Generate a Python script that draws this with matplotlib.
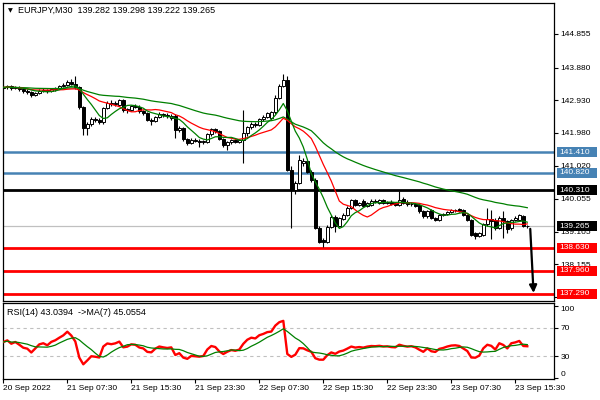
import matplotlib
matplotlib.use("Agg")
import matplotlib.pyplot as plt
import matplotlib.transforms as mtransforms
from matplotlib.patches import Rectangle
import numpy as np
import pandas as pd

# EURJPY M30, one bar per 30 minutes from 20 Sep 23:30
opens = [143.28, 143.30, 143.33, 143.27, 143.30, 143.25, 143.19, 143.17, 143.08, 143.14,
         143.21, 143.23, 143.19, 143.25, 143.28, 143.33, 143.38, 143.47, 143.41, 143.30,
         142.72, 142.12, 142.24, 142.38, 142.34, 142.28, 142.70, 142.85, 142.81, 142.79,
         142.93, 142.63, 142.64, 142.76, 142.74, 142.60, 142.55, 142.35, 142.32, 142.45,
         142.53, 142.49, 142.40, 142.48, 142.06, 142.12, 141.79, 141.68, 141.78, 141.75,
         141.72, 141.72, 141.95, 142.08, 142.03, 141.79, 141.62, 141.70, 141.76, 141.72,
         141.76, 141.97, 142.15, 142.25, 142.22, 142.38, 142.45, 142.40, 142.58, 143.00,
         143.35, 143.52, 140.90, 140.32, 140.52, 141.10, 141.16, 140.85, 140.61, 139.22,
         138.86, 138.80, 139.25, 139.54, 139.28, 139.48, 139.60, 139.80, 140.02, 139.88,
         140.00, 139.86, 139.88, 140.00, 139.94, 140.01, 139.95, 139.98, 139.94, 139.88,
         140.05, 139.98, 139.90, 139.92, 139.88, 139.70, 139.55, 139.72, 139.50, 139.45,
         139.58, 139.62, 139.68, 139.72, 139.76, 139.72, 139.60, 139.45, 139.05, 138.98,
         139.02, 139.32, 139.46, 139.45, 139.22, 139.50, 139.40, 139.20, 139.45, 139.45,
         139.55, 139.282]
highs = [143.36, 143.38, 143.36, 143.34, 143.33, 143.29, 143.25, 143.20, 143.18, 143.24,
         143.27, 143.26, 143.28, 143.31, 143.36, 143.42, 143.52, 143.55, 143.62, 143.34,
         142.76, 142.30, 142.44, 142.44, 142.42, 142.74, 142.90, 142.92, 142.90, 142.97,
         142.96, 142.70, 142.80, 142.82, 142.78, 142.64, 142.58, 142.40, 142.48, 142.58,
         142.56, 142.55, 142.52, 142.52, 142.18, 142.16, 141.84, 141.82, 141.82, 141.80,
         141.78, 141.98, 142.12, 142.12, 142.06, 141.82, 141.74, 141.80, 141.80, 141.80,
         142.64, 142.18, 142.30, 142.28, 142.42, 142.50, 142.58, 142.62, 143.08, 143.40,
         143.70, 143.64, 141.00, 140.58, 141.33, 141.24, 141.20, 140.90, 140.66, 139.28,
         138.92, 139.30, 139.58, 139.58, 139.52, 139.64, 139.84, 140.06, 140.06, 139.98,
         140.04, 139.98, 140.04, 140.04, 140.04, 140.04, 139.99, 140.01, 139.97, 140.29,
         140.10, 140.01, 139.96, 139.95, 139.92, 139.74, 139.73, 139.75, 139.54, 139.62,
         139.66, 139.71, 139.76, 139.77, 139.80, 139.76, 139.63, 139.48, 139.08, 139.08,
         139.35, 139.79, 139.72, 139.50, 139.55, 139.70, 139.45, 139.48, 139.56, 139.62,
         139.60, 139.298]
lows = [143.24, 143.26, 143.22, 143.24, 143.21, 143.15, 143.12, 143.02, 143.05, 143.10,
        143.16, 143.14, 143.16, 143.21, 143.25, 143.30, 143.35, 143.36, 143.26, 142.66,
        141.92, 141.92, 142.18, 142.30, 142.24, 142.24, 142.66, 142.76, 142.77, 142.75,
        142.58, 142.56, 142.60, 142.70, 142.56, 142.50, 142.32, 142.20, 142.28, 142.42,
        142.44, 142.42, 142.36, 141.83, 142.00, 141.74, 141.62, 141.64, 141.70, 141.57,
        141.66, 141.68, 141.90, 141.98, 141.76, 141.58, 141.48, 141.66, 141.68, 141.68,
        141.10, 141.90, 142.10, 142.16, 142.18, 142.32, 142.40, 142.34, 142.54, 142.96,
        143.30, 140.86, 139.21, 140.20, 140.48, 141.00, 140.80, 140.56, 139.18, 138.76,
        138.65, 138.76, 139.20, 139.09, 139.24, 139.44, 139.56, 139.76, 139.84, 139.84,
        139.82, 139.82, 139.85, 139.94, 139.90, 139.92, 139.90, 139.87, 139.84, 139.85,
        139.92, 139.86, 139.85, 139.82, 139.66, 139.50, 139.50, 139.46, 139.40, 139.42,
        139.55, 139.60, 139.65, 139.68, 139.67, 139.55, 139.42, 138.97, 138.89, 138.94,
        138.98, 139.28, 138.90, 139.15, 139.18, 138.92, 139.05, 139.16, 139.40, 139.42,
        139.24, 139.222]
closes = [143.30, 143.33, 143.27, 143.30, 143.25, 143.19, 143.17, 143.08, 143.14, 143.21,
          143.23, 143.19, 143.25, 143.28, 143.33, 143.38, 143.47, 143.41, 143.30, 142.72,
          142.12, 142.24, 142.38, 142.34, 142.28, 142.70, 142.85, 142.81, 142.85, 142.93,
          142.63, 142.66, 142.76, 142.74, 142.60, 142.55, 142.35, 142.32, 142.45, 142.53,
          142.49, 142.46, 142.48, 142.06, 142.12, 141.79, 141.68, 141.78, 141.75, 141.72,
          141.74, 141.95, 142.08, 142.03, 141.79, 141.62, 141.70, 141.76, 141.72, 141.76,
          141.97, 142.15, 142.25, 142.22, 142.38, 142.45, 142.55, 142.58, 143.00, 143.35,
          143.52, 140.90, 140.32, 140.52, 141.19, 141.16, 140.85, 140.61, 139.22, 138.81,
          138.80, 139.25, 139.54, 139.26, 139.50, 139.60, 139.80, 140.02, 139.88, 139.93,
          139.86, 139.95, 140.00, 139.98, 140.01, 139.95, 139.96, 139.90, 139.88, 140.03,
          139.95, 139.90, 139.92, 139.85, 139.70, 139.55, 139.70, 139.50, 139.45, 139.58,
          139.62, 139.68, 139.72, 139.73, 139.70, 139.58, 139.45, 139.00, 138.98, 139.05,
          139.32, 139.48, 139.42, 139.20, 139.50, 139.40, 139.18, 139.45, 139.50, 139.58,
          139.28, 139.265]

time_labels = ["20 Sep 2022", "21 Sep 07:30", "21 Sep 15:30", "21 Sep 23:30", "22 Sep 07:30",
               "22 Sep 15:30", "22 Sep 23:30", "23 Sep 07:30", "23 Sep 15:30"]
bars_per_label = 16

price_ticks = [144.855, 143.880, 142.930, 141.980, 141.020, 140.055, 139.105, 138.155, 137.205]
resistance = [141.410, 140.820]
pivot = 140.310
supports = [138.630, 137.960, 137.290]
last_price = 139.265
target = 137.290

title = "EURJPY,M30  139.282 139.298 139.222 139.265"
rsi_title = "RSI(14) 43.0394  ->MA(7) 45.0554"

FONT = "Liberation Sans"
plt.rcParams["font.family"] = [FONT, "DejaVu Sans"]
STEEL = "#4682B4"
RED = "#FF0000"
GREEN = "#008000"

o, h, l, c = map(np.array, (opens, highs, lows, closes))
x = np.arange(len(c))
s = pd.Series(c)
ma_fast = s.rolling(7, min_periods=1).mean()
ma_mid = s.rolling(14, min_periods=1).mean()
ma_slow = s.ewm(span=50, adjust=False).mean()


def wilder_rsi(close, period=14):
    d = np.diff(close)
    # no history before the first bar: start both averages from the mean move
    seed = np.abs(d[:period]).mean() / 2
    ag, al = [seed], [seed]
    for v in d:
        ag.append((ag[-1] * (period - 1) + max(v, 0)) / period)
        al.append((al[-1] * (period - 1) + max(-v, 0)) / period)
    ag, al = np.array(ag), np.array(al)
    return 100 - 100 / (1 + ag / al)


rsi = pd.Series(wilder_rsi(c))
rsi_ma = rsi.rolling(7, min_periods=1).mean()

fig = plt.figure(figsize=(6, 4), dpi=100)
W, H = 600, 400
L, R = 2.7, 554
ax = fig.add_axes([L / W, 1 - 301 / H, (R - L) / W, (301 - 2.7) / H])
rx = fig.add_axes([L / W, 1 - 379 / H, (R - L) / W, (379 - 303) / H], sharex=ax)

xmin = -0.15
xmax = xmin + (R - L) / 4.0
ax.set_xlim(xmin, xmax)
ax.set_ylim(144.855 - (301 - 34) * 0.0291, 144.855 + (34 - 2.7) * 0.0291)

# horizontal levels
for y in resistance:
    ax.axhline(y, color=STEEL, lw=1.8, zorder=2)
ax.axhline(pivot, color="black", lw=2.0, zorder=2)
for y in supports:
    ax.axhline(y, color=RED, lw=2.0, zorder=2)
ax.axhline(last_price, color="#C0C0C0", lw=0.9, zorder=1)

# candles
up = c >= o
ax.vlines(x, l, h, color="black", lw=0.8, zorder=3)
ax.bar(x[up], np.maximum(c[up] - o[up], 0.004), bottom=o[up], width=0.7,
       color="white", edgecolor="black", lw=0.7, zorder=4)
ax.bar(x[~up], o[~up] - c[~up], bottom=c[~up], width=0.7,
       color="black", edgecolor="black", lw=0.7, zorder=4)

ax.plot(x, ma_slow, color=GREEN, lw=0.9, zorder=5)
ax.plot(x, ma_mid, color=RED, lw=0.9, zorder=5)
ax.plot(x, ma_fast, color=GREEN, lw=0.9, zorder=5)

ax.annotate("", xy=(x[-1] + 1.6, target - 0.05), xytext=(x[-1] + 0.7, last_price),
            arrowprops=dict(arrowstyle="-|>", color="black", lw=1.6, mutation_scale=11),
            zorder=6)

ax.yaxis.tick_right()
ax.set_yticks(price_ticks)
ax.set_yticklabels([f"{t:.3f}" for t in price_ticks])
ax.tick_params(axis="y", length=3, width=0.8, pad=1.5, labelsize=6)
ax.tick_params(axis="x", bottom=False, labelbottom=False)

# boxed price labels on the right axis
trans = mtransforms.blended_transform_factory(ax.transAxes, ax.transData)
box_h = 10 * 0.0291


def price_box(y, face):
    ax.add_patch(Rectangle((1.0054, y - box_h / 2), 0.0726, box_h, transform=trans,
                           facecolor=face, edgecolor="none", clip_on=False, zorder=10))
    ax.text(1.0095, y, f"{y:.3f}", transform=trans, ha="left", va="center",
            fontsize=6, color="white", clip_on=False, zorder=11)


for y in resistance:
    price_box(y, STEEL)
price_box(pivot, "black")
price_box(last_price, "black")
for y in supports:
    price_box(y, RED)

# RSI panel
rx.set_ylim(-1.7, 104.5)
rx.axhline(70, color="#C0C0C0", lw=0.8, ls=(0, (3, 3)))
rx.axhline(30, color="#C0C0C0", lw=0.8, ls=(0, (3, 3)))
rx.plot(x, rsi, color=RED, lw=1.7, zorder=3)
rx.plot(x, rsi_ma, color=GREEN, lw=0.9, zorder=4)
rx.yaxis.tick_right()
rx.set_yticks([100, 70, 30, 0])
rx.set_yticklabels(["100", "70", "30", "0"])
rx.tick_params(axis="y", length=3, width=0.8, pad=1.5, labelsize=6)
labs = rx.get_yticklabels()
labs[0].set_va("top")
labs[-1].set_va("bottom")

rx.set_xticks(x[::bars_per_label][:len(time_labels)])
rx.set_xticklabels(time_labels, ha="left")
rx.tick_params(axis="x", length=3, width=0.8, pad=1.5, labelsize=6)

for a in (ax, rx):
    for sp in a.spines.values():
        sp.set_linewidth(0.9)

fig.text(8 / W, 1 - 10.7 / H, "▼", fontsize=4.5, va="center", ha="left",
         family="DejaVu Sans")
fig.text(18 / W, 1 - 10.7 / H, title, fontsize=6.5, va="center", ha="left")
fig.text(7 / W, 1 - 312.7 / H, rsi_title, fontsize=6.5, va="center", ha="left")

fig.savefig("out.png", dpi=100, facecolor="white")
